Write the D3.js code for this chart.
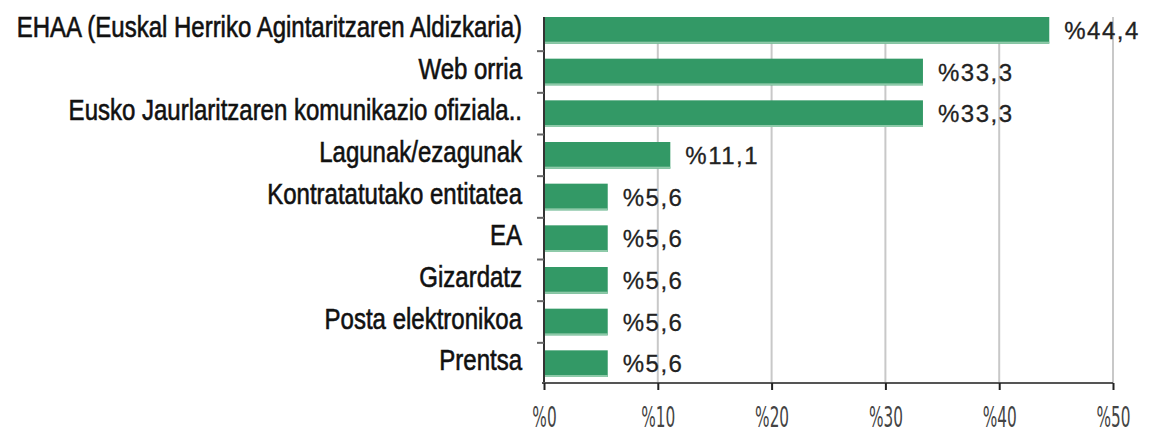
<!DOCTYPE html>
<html>
<head>
<meta charset="utf-8">
<script src="https://cdn.jsdelivr.net/npm/d3@7"></script>
<style>
  body { margin: 0; background: #fff; }
  svg { display: block; }
</style>
</head>
<body>
<div id="chart-area"></div>
<script>
// categories and values (percent)
var categories = [
  'EHAA (Euskal Herriko Agintaritzaren Aldizkaria)',
  'Web orria',
  'Eusko Jaurlaritzaren komunikazio ofiziala..',
  'Lagunak/ezagunak',
  'Kontratatutako entitatea',
  'EA',
  'Gizardatz',
  'Posta elektronikoa',
  'Prentsa'
];
var values = [44.4, 33.3, 33.3, 11.1, 5.6, 5.6, 5.6, 5.6, 5.6];
var valueLabels = ['%44,4', '%33,3', '%33,3', '%11,1', '%5,6', '%5,6', '%5,6', '%5,6', '%5,6'];
var tickValues = [0, 10, 20, 30, 40, 50];
var tickLabels = ['%0', '%10', '%20', '%30', '%40', '%50'];

var W = 1150, H = 435;
var axisY = 383;

var svg = d3.select('#chart-area').append('svg')
    .attr('width', W)
    .attr('height', H);

//x scale
var x = d3.scaleLinear()
          .domain([0, 50])
          .range([544, 1113]);
//y scale
var y = d3.scaleBand()
          .domain(categories)
          .range([9.5, 384.5])
          .paddingInner(0.36)
          .paddingOuter(0.18);

var plotTop = y(categories[0]);
var gap = y.step() * 0.36 / 2;

//gridlines
svg.append('g').selectAll('line')
  .data(tickValues.slice(1))
  .enter().append('line')
    .attr('x1', function(d){ return x(d); })
    .attr('x2', function(d){ return x(d); })
    .attr('y1', plotTop)
    .attr('y2', axisY)
    .attr('stroke', '#c8c8c8')
    .attr('stroke-width', 2);

//bars
var bars = svg.append('g').selectAll('g')
  .data(values)
  .enter().append('g');

bars.append('rect')
  .attr('x', x(0))
  .attr('y', function(d, i){ return y(categories[i]); })
  .attr('width', function(d){ return x(d) - x(0); })
  .attr('height', y.bandwidth())
  .attr('fill', '#339966');

bars.append('rect')
  .attr('x', x(0))
  .attr('y', function(d, i){ return y(categories[i]) + y.bandwidth() - 2; })
  .attr('width', function(d){ return x(d) - x(0); })
  .attr('height', 2)
  .attr('fill', '#8ecaa9');

//value labels
bars.append('text')
  .attr('x', function(d){ return x(d) + 15; })
  .attr('y', function(d, i){ return y(categories[i]) + y.bandwidth() / 2 + 8.5; })
  .attr('font-family', 'Liberation Sans, Arial, sans-serif')
  .attr('font-size', '24px')
  .attr('letter-spacing', '1.5px')
  .attr('fill', '#222')
  .attr('stroke', '#222')
  .attr('stroke-width', 0.3)
  .text(function(d, i){ return valueLabels[i]; });

//y axis line and ticks
svg.append('line')
  .attr('x1', x(0)).attr('x2', x(0))
  .attr('y1', plotTop).attr('y2', axisY)
  .attr('stroke', '#333')
  .attr('stroke-width', 2);

svg.append('g').selectAll('line')
  .data(categories.slice(1))
  .enter().append('line')
    .attr('x1', x(0) - 7)
    .attr('x2', x(0))
    .attr('y1', function(d){ return y(d) - gap; })
    .attr('y2', function(d){ return y(d) - gap; })
    .attr('stroke', '#666')
    .attr('stroke-width', 2);

//category labels
svg.append('g').selectAll('text')
  .data(categories)
  .enter().append('text')
    .attr('transform', function(d){
      return 'translate(522,' + (y(d) + y.bandwidth() / 2 + 6.5) + ') scale(1,1.25)';
    })
    .attr('text-anchor', 'end')
    .attr('font-family', 'Liberation Sans, Arial, sans-serif')
    .attr('font-size', '24px')
    .attr('fill', '#111')
    .attr('stroke', '#111')
    .attr('stroke-width', 0.5)
    .text(function(d){ return d; });

//x axis
var xAxis = d3.axisBottom(x)
  .tickValues(tickValues)
  .tickSize(7)
  .tickFormat(function(d, i){ return tickLabels[i]; });

var gx = svg.append('g')
  .attr('transform', 'translate(0,' + axisY + ')')
  .call(xAxis);

gx.select('.domain')
  .attr('stroke', '#555')
  .attr('stroke-width', 2)
  .attr('d', 'M' + (x(0) - 2) + ',0H' + x(50));
gx.selectAll('.tick line')
  .attr('stroke', '#222')
  .attr('stroke-width', 2);
gx.selectAll('.tick text')
  .attr('y', 0)
  .attr('dy', 0)
  .attr('transform', 'translate(0,44) scale(0.85,1.4)')
  .attr('font-family', 'DejaVu Sans Condensed, Liberation Sans, sans-serif')
  .attr('font-size', '20px')
  .attr('fill', '#444');
</script>
</body>
</html>
